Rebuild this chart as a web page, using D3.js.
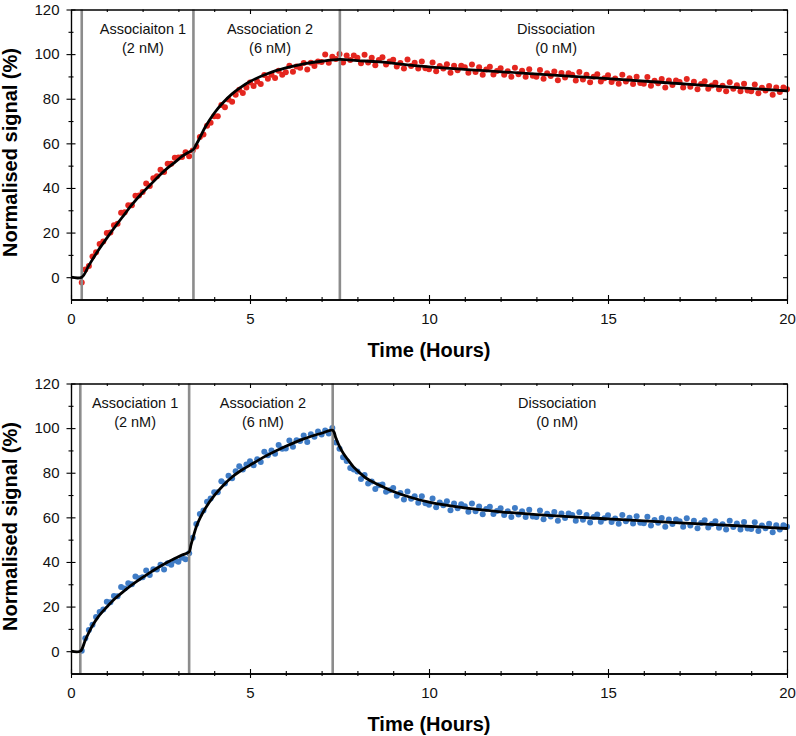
<!DOCTYPE html>
<html><head><meta charset="utf-8">
<script src="https://cdn.jsdelivr.net/npm/d3@7"></script>
<style>body{margin:0;background:#fff}</style>
</head><body><svg id="c" width="796" height="736"></svg>
<script>
// ---------- DATA ----------
const sampleTimes = [
 0.3,0.4,0.5,0.6,0.7,0.8,0.9,
 1.0,1.1,1.2,1.3,1.4,1.5,1.6,1.7,1.8,1.9,
 2.0,2.1,2.2,2.3,2.4,2.5,2.6,2.7,2.8,2.9,
 3.0,3.1,3.2,3.3,3.4,3.5,3.6,3.7,3.8,3.9,
 4.0,4.1,4.2,4.3,4.4,4.5,4.6,4.7,4.8,4.9,
 5.0,5.1,5.2,5.3,5.4,5.5,5.6,5.7,5.8,5.9,
 6.0,6.1,6.2,6.3,6.4,6.5,6.6,6.7,6.8,6.9,
 7.0,7.1,7.2,7.3,7.4,7.5,7.6,7.7,7.8,7.9,
 8.0,8.1,8.2,8.3,8.4,8.5,8.6,8.7,8.8,8.9,
 9.0,9.1,9.2,9.3,9.4,9.5,9.6,9.7,9.8,9.9,
 10.0,10.1,10.2,10.3,10.4,10.5,10.6,10.7,10.8,10.9,
 11.0,11.1,11.2,11.3,11.4,11.5,11.6,11.7,11.8,11.9,
 12.0,12.1,12.2,12.3,12.4,12.5,12.6,12.7,12.8,12.9,
 13.0,13.1,13.2,13.3,13.4,13.5,13.6,13.7,13.8,13.9,
 14.0,14.1,14.2,14.3,14.4,14.5,14.6,14.7,14.8,14.9,
 15.0,15.1,15.2,15.3,15.4,15.5,15.6,15.7,15.8,15.9,
 16.0,16.1,16.2,16.3,16.4,16.5,16.6,16.7,16.8,16.9,
 17.0,17.1,17.2,17.3,17.4,17.5,17.6,17.7,17.8,17.9,
 18.0,18.1,18.2,18.3,18.4,18.5,18.6,18.7,18.8,18.9,
 19.0,19.1,19.2,19.3,19.4,19.5,19.6,19.7,19.8,19.9,
 20.0
];
const redSignal = [
 -2.4,3.4,5.0,9.3,11.2,14.9,16.0,
 19.8,20.0,23.3,24.0,28.9,29.1,32.3,32.3,36.5,36.6,
 38.2,42.0,40.9,44.3,45.2,48.2,47.1,50.8,50.8,53.5,
 53.6,53.9,56.0,54.2,56.8,58.6,62.9,64.0,67.9,69.2,
 72.1,72.2,77.2,76.2,79.7,78.6,81.8,84.0,82.6,85.0,
 87.3,85.7,87.7,86.6,90.6,89.0,90.8,89.3,92.5,90.8,
 91.9,94.8,92.1,94.5,93.9,96.0,93.1,96.1,94.7,96.7,
 96.5,99.8,96.1,98.8,97.8,100.1,96.2,99.4,97.4,99.4,
 98.4,95.9,99.7,96.2,98.4,95.0,97.4,98.6,95.3,96.7,
 97.5,94.4,96.0,93.6,97.6,94.7,96.1,93.5,96.7,93.7,
 93.2,96.2,92.3,94.7,93.5,95.5,91.6,94.8,92.8,94.8,
 94.1,91.6,95.4,92.0,94.1,90.7,93.1,94.3,90.9,92.4,
 93.7,90.7,92.3,89.9,93.9,91.0,92.5,89.9,93.2,90.3,
 89.9,92.9,89.0,91.4,90.2,92.2,88.3,91.5,89.5,91.4,
 90.7,88.2,92.0,88.6,90.8,87.4,89.8,91.0,87.7,89.2,
 90.5,87.5,89.1,86.7,90.7,87.7,89.2,86.6,89.9,87.0,
 86.7,89.7,85.8,88.1,86.9,88.9,85.0,88.2,86.2,88.2,
 87.5,85.0,88.8,85.4,87.6,84.2,86.6,87.8,84.5,85.9,
 87.2,84.2,85.8,83.4,87.4,84.5,86.0,83.4,86.7,83.7,
 83.4,86.4,82.5,84.9,83.7,85.7,81.8,85.0,83.0,85.0,
 84.3
];
const blueSignal = [
 0.2,5.8,9.5,11.9,15.3,17.6,18.7,
 22.2,21.9,24.7,24.6,28.8,28.1,30.5,30.0,33.5,32.7,
 33.1,36.2,34.2,36.7,36.6,38.7,36.6,39.4,38.7,40.7,
 40.1,41.9,41.2,43.9,50.9,57.0,61.5,63.1,67.0,68.4,
 71.3,71.3,76.2,75.2,78.6,77.5,80.7,82.9,81.4,83.7,
 85.1,83.4,86.0,84.8,89.4,87.8,90.0,88.5,92.4,90.7,
 90.9,94.4,91.7,94.6,94.2,96.7,93.8,97.3,96.1,98.5,
 97.1,98.9,97.6,100.1,93.5,90.8,86.9,85.3,82.1,81.4,
 80.5,77.2,79.0,75.2,76.1,72.7,74.4,74.7,71.5,72.1,
 73.2,69.7,70.9,68.0,71.6,68.3,69.5,66.5,69.5,66.3,
 65.7,68.5,64.5,66.7,65.4,67.2,63.2,66.2,64.1,65.9,
 65.0,62.5,66.2,62.7,64.9,61.4,63.7,64.8,61.5,62.9,
 64.1,61.1,62.7,60.2,64.2,61.3,62.7,60.1,63.4,60.4,
 60.1,63.1,59.2,61.6,60.4,62.4,58.5,61.7,59.7,61.7,
 61.0,58.5,62.3,58.9,61.1,57.7,60.1,61.3,58.0,59.6,
 60.9,57.9,59.5,57.1,61.1,58.2,59.8,57.2,60.5,57.6,
 57.3,60.3,56.4,58.8,57.6,59.7,55.8,59.0,57.0,59.0,
 58.3,55.8,59.6,56.3,58.5,55.1,57.5,58.7,55.4,57.0,
 58.3,55.3,56.9,54.5,58.5,55.7,57.2,54.6,57.9,55.0,
 54.8,57.8,53.9,56.3,55.1,57.1,53.3,56.5,54.5,56.5,
 55.8
];
const redFit = [[0,0],[0.3,0],[0.5,5.3],[0.76,12],[1.0,17.5],[1.23,22.6],[1.5,28.3],[1.69,32.3],[2.0,38],[2.16,40.5],[2.4,44.5],[2.63,48],[2.9,51.5],[3.09,54],[3.25,55.7],[3.42,57.3],[3.5,59.5],[3.6,62.5],[3.75,67.3],[4.0,73.5],[4.25,78.3],[4.5,82.2],[4.75,85.2],[5.0,87.7],[5.5,91.3],[6.0,93.8],[6.5,95.6],[7.0,96.8],[7.51,97.6],[8.0,97.1],[8.63,96.5],[10,94.3],[12.5,91.6],[15,89],[17.5,86.2],[20,83.5]];
const blueFit = [[0,0],[0.26,0],[0.4,5],[0.58,10.9],[0.76,15.4],[1.0,19.8],[1.23,23.6],[1.5,27.2],[1.69,29.6],[2.0,33.1],[2.16,34.8],[2.4,37.2],[2.63,39.3],[2.9,41.5],[3.1,43.1],[3.3,44.5],[3.35,47.6],[3.42,51.5],[3.5,55.8],[3.6,59.5],[3.75,64],[4.0,69.7],[4.25,74.3],[4.5,78.1],[4.75,81],[5.0,83.4],[5.5,88],[6.0,91.9],[6.5,95.2],[7.0,97.7],[7.31,99],[7.4,95.5],[7.5,91.8],[7.61,88.6],[7.75,85.5],[7.89,82.6],[8.0,80.9],[8.26,77.4],[8.5,75.3],[8.75,73.4],[9.0,71.6],[9.5,68.9],[10,66.8],[11,64.2],[12,62.5],[13,61.2],[14,60.2],[15,59.3],[16,58.4],[17,57.5],[18,56.7],[19,55.9],[20,55]];

const xDomain = [0, 20];
const yDomain = [-10, 120];
const xMajorTicks = [0, 5, 10, 15, 20];
const xMinorTicks = [1,2,3,4,6,7,8,9,11,12,13,14,16,17,18,19];
const yMajorTicks = [0, 20, 40, 60, 80, 100, 120];
const yMinorTicks = [10, 30, 50, 70, 90, 110];
const topPhaseTimes = [0.3, 3.42, 7.51];
const bottomPhaseTimes = [0.26, 3.30, 7.31];
const topPhaseLabels = [["Associaiton 1", "(2 nM)"], ["Association 2", "(6 nM)"], ["Dissociation", "(0 nM)"]];
const bottomPhaseLabels = [["Association 1", "(2 nM)"], ["Association 2", "(6 nM)"], ["Dissociation", "(0 nM)"]];
const topLabelTimes = [2.01, 5.56, 13.55];
const bottomLabelTimes = [1.79, 5.36, 13.58];
const xTitle = "Time (Hours)";
const yTitle = "Normalised signal (%)";

// ---------- DRAW ----------
const FONT = "'Liberation Sans', Arial, Helvetica, sans-serif";
const svg = d3.select('#c');
const LEFT = 71, RIGHT = 787;

function drawPanel(o) {
  const g = svg.append('g');
  const x = d3.scaleLinear().domain(xDomain).range([LEFT, RIGHT]);
  const y = d3.scaleLinear().domain(yDomain).range([o.bottom, o.top]);

  // scatter
  g.append('g').selectAll('circle')
    .data(sampleTimes.map((t, i) => [t, o.values[i]]))
    .join('circle')
    .attr('cx', d => x(d[0])).attr('cy', d => y(d[1]))
    .attr('r', 3).attr('fill', o.color);

  // phase lines
  g.append('g').selectAll('line').data(o.phases).join('line')
    .attr('x1', d => x(d)).attr('x2', d => x(d))
    .attr('y1', y(yDomain[1])).attr('y2', y(yDomain[0]))
    .attr('stroke', '#8c8c8c').attr('stroke-width', 2.6);

  // fit
  g.append('path').datum(o.fit)
    .attr('d', d3.line().x(d => x(d[0])).y(d => y(d[1])).curve(d3.curveCatmullRom.alpha(0.5)))
    .attr('fill', 'none').attr('stroke', '#000').attr('stroke-width', 2.8);

  // phase labels
  const lab = g.append('g').selectAll('text').data(o.labels).join('text')
    .attr('x', (d, i) => x(o.labelTimes[i]))
    .attr('y', o.top + 24)
    .attr('text-anchor', 'middle')
    .attr('font-family', FONT).attr('font-size', 14.5).attr('fill', '#111');
  lab.append('tspan').attr('x', (d, i) => x(o.labelTimes[i])).text(d => d[0]);
  lab.append('tspan').attr('x', (d, i) => x(o.labelTimes[i])).attr('dy', 19).text(d => d[1]);

  function axis(gen, transform, ticks, size, labels, pad) {
    const a = gen.tickValues(ticks).tickSizeInner(size).tickSizeOuter(0);
    if (labels) a.tickPadding(pad); else a.tickFormat('');
    const s = g.append('g').attr('transform', transform).call(a);
    s.select('.domain').attr('stroke', '#000').attr('stroke-width', 1.1);
    s.selectAll('.tick line').attr('stroke', '#000').attr('stroke-width', 1.1);
    s.selectAll('text').attr('font-family', FONT).attr('font-size', 15).attr('fill', '#111');
    return s;
  }
  const yb = y(yDomain[0]), yt = y(yDomain[1]);
  // bottom axis (crossing ticks)
  axis(d3.axisBottom(x), `translate(0,${yb})`, xMajorTicks, 4.5, true, 9);
  axis(d3.axisTop(x), `translate(0,${yb})`, xMajorTicks, 4.5, false);
  axis(d3.axisBottom(x), `translate(0,${yb})`, xMinorTicks, 2.5, false);
  axis(d3.axisTop(x), `translate(0,${yb})`, xMinorTicks, 2.5, false);
  // left axis (crossing ticks)
  axis(d3.axisLeft(y), `translate(${LEFT},0)`, yMajorTicks, 4.5, true, 7);
  axis(d3.axisRight(y), `translate(${LEFT},0)`, yMajorTicks, 4.5, false);
  axis(d3.axisLeft(y), `translate(${LEFT},0)`, yMinorTicks, 2.5, false);
  axis(d3.axisRight(y), `translate(${LEFT},0)`, yMinorTicks, 2.5, false);
  // top border (ticks inward)
  axis(d3.axisBottom(x), `translate(0,${yt})`, xMajorTicks, 4.5, false);
  axis(d3.axisBottom(x), `translate(0,${yt})`, xMinorTicks, 2.5, false);
  // right border (ticks inward)
  axis(d3.axisLeft(y), `translate(${RIGHT},0)`, yMajorTicks, 4, false);
  axis(d3.axisLeft(y), `translate(${RIGHT},0)`, yMinorTicks, 2.5, false);

  // titles
  g.append('text').attr('x', (LEFT + RIGHT) / 2).attr('y', yb + 57)
    .attr('text-anchor', 'middle').attr('font-family', FONT)
    .attr('font-weight', 'bold').attr('font-size', 20).attr('fill', '#000').text(xTitle);
  g.append('text')
    .attr('transform', `translate(17,${(yt + yb) / 2 - 2}) rotate(-90)`)
    .attr('text-anchor', 'middle').attr('font-family', FONT)
    .attr('font-weight', 'bold').attr('font-size', 20).attr('fill', '#000').text(yTitle);
}

drawPanel({ top: 9.5, bottom: 299.5, values: redSignal, fit: redFit, color: '#e4261f',
  phases: topPhaseTimes, labels: topPhaseLabels, labelTimes: topLabelTimes });
drawPanel({ top: 383.5, bottom: 673.5, values: blueSignal, fit: blueFit, color: '#3f7cc6',
  phases: bottomPhaseTimes, labels: bottomPhaseLabels, labelTimes: bottomLabelTimes });
</script>
</body></html>
